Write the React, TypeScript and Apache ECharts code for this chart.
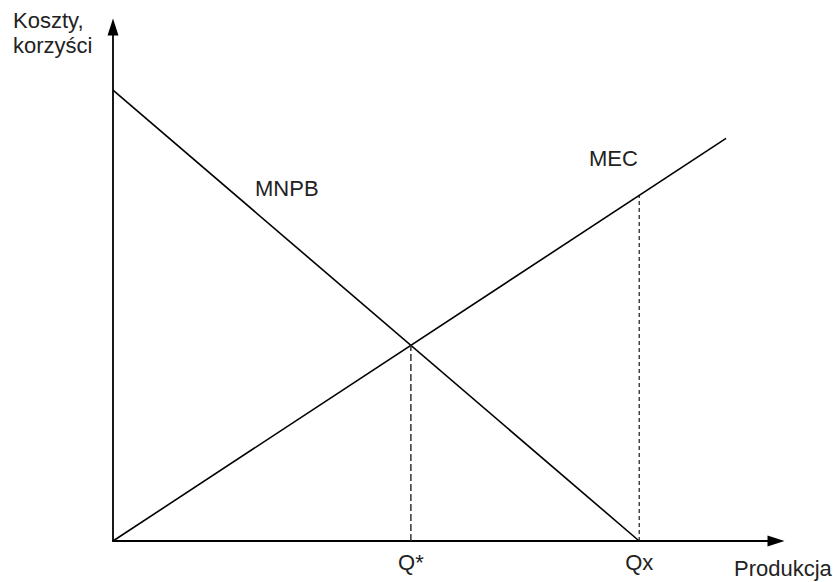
import React, { useEffect, useRef } from "react";
import * as echarts from "echarts";

// Data (abstract units)
const xMax = 126;
const yMax = 114;
const mnpbPoints: number[][] = [[0, 100], [100, 0]];
const mecPoints: number[][] = [[0, 0], [116.5, 89.3]];
const qx = 100;
const xTickNames = ["Q*", "Qx"];
const yTitle = "Koszty,\nkorzyści";
const xTitle = "Produkcja";
const curveNames = ["MNPB", "MEC"];

const FONT = "'Liberation Sans', Arial, sans-serif";

function lineAt(p: number[][], x: number) {
  const [a, b] = p;
  return a[1] + ((b[1] - a[1]) * (x - a[0])) / (b[0] - a[0]);
}

export default function App() {
  const ref = useRef<HTMLDivElement>(null);
  useEffect(() => {
    if (!ref.current) return;
    const chart = echarts.init(ref.current, undefined, { renderer: "svg" });
    // intersection of MNPB and MEC
    const m1 = (mnpbPoints[1][1] - mnpbPoints[0][1]) / (mnpbPoints[1][0] - mnpbPoints[0][0]);
    const b1 = mnpbPoints[0][1] - m1 * mnpbPoints[0][0];
    const m2 = (mecPoints[1][1] - mecPoints[0][1]) / (mecPoints[1][0] - mecPoints[0][0]);
    const b2 = mecPoints[0][1] - m2 * mecPoints[0][0];
    const qStar = (b2 - b1) / (m1 - m2);
    const qStarY = m1 * qStar + b1;
    const qxY = lineAt(mecPoints, qx);
    const tickVals = [qStar, qx];

    chart.setOption({
      animation: false,
      grid: { left: 113, right: 57, top: 27, bottom: 41 },
      xAxis: {
        type: "value",
        min: 0,
        max: xMax,
        splitLine: { show: false },
        axisTick: { show: false },
        axisLine: {
          show: true,
          onZero: false,
          symbol: ["none", "triangle"],
          symbolSize: [11, 17],
          lineStyle: { color: "#000", width: 1.8 },
        },
        axisLabel: {
          show: true,
          customValues: tickVals,
          margin: 10,
          fontSize: 22,
          fontFamily: FONT,
          color: "#222",
          formatter: (v: number) => {
            const i = tickVals.findIndex((t) => Math.abs(t - v) < 1e-6);
            return i >= 0 ? xTickNames[i] : "";
          },
        },
      },
      yAxis: {
        type: "value",
        min: 0,
        max: yMax,
        splitLine: { show: false },
        axisTick: { show: false },
        axisLabel: { show: false },
        axisLine: {
          show: true,
          onZero: false,
          symbol: ["none", "triangle"],
          symbolSize: [11, 17],
          lineStyle: { color: "#000", width: 1.8 },
        },
      },
      series: [
        {
          type: "line",
          name: curveNames[0],
          data: mnpbPoints,
          symbol: "none",
          silent: true,
          lineStyle: { color: "#000", width: 1.6 },
        },
        {
          type: "line",
          name: curveNames[1],
          data: mecPoints,
          symbol: "none",
          silent: true,
          lineStyle: { color: "#000", width: 1.6 },
        },
        {
          type: "line",
          data: [[qStar, 0], [qStar, qStarY]],
          symbol: "none",
          silent: true,
          lineStyle: { color: "#333", width: 1.5, type: [7, 3] },
        },
        {
          type: "line",
          data: [[qx, 0], [qx, qxY]],
          symbol: "none",
          silent: true,
          lineStyle: { color: "#000", width: 1.1, type: [4, 3] },
        },
      ],
      graphic: [
        {
          type: "text",
          left: 13,
          top: 8,
          style: { text: yTitle, font: `22px ${FONT}`, fill: "#222", lineHeight: 25 },
        },
        {
          type: "text",
          left: 734,
          top: 557,
          style: { text: xTitle, font: `22px ${FONT}`, fill: "#222" },
        },
        {
          type: "text",
          left: 255,
          top: 177,
          style: { text: curveNames[0], font: `22px ${FONT}`, fill: "#222" },
        },
        {
          type: "text",
          left: 589,
          top: 147,
          style: { text: curveNames[1], font: `22px ${FONT}`, fill: "#222" },
        },
      ],
    });
    return () => chart.dispose();
  }, []);
  return (
    <div
      ref={ref}
      style={{ position: "fixed", left: 0, top: 0, width: 833, height: 582, background: "#fff" }}
    />
  );
}
